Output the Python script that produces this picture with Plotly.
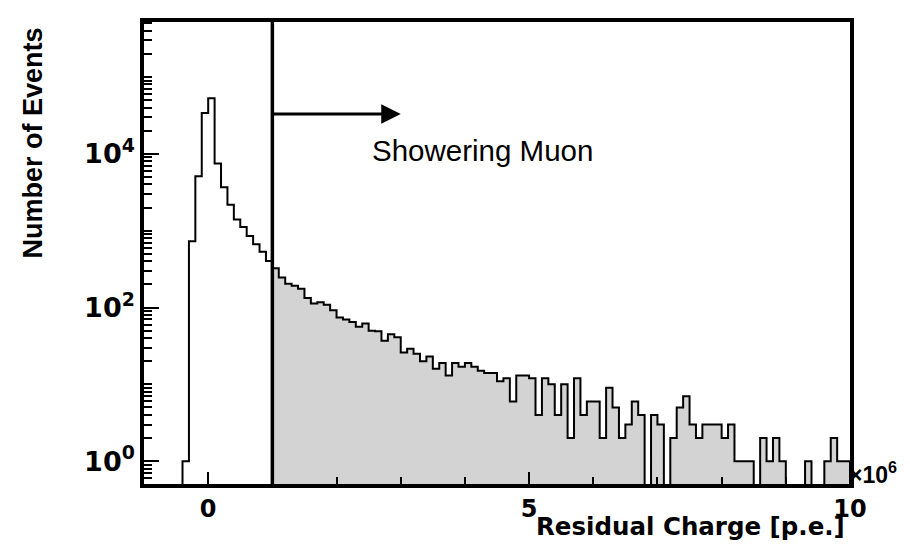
import numpy as np
import plotly.graph_objects as go

# ---------------- data ----------------
bin_start = -1.0          # x10^6 p.e.
bin_width = 0.1
counts = [
    0, 0, 0, 0, 0, 0, 1, 730, 5100, 34000,
    53000, 7500, 3670, 2180, 1395, 1120, 850, 664, 533, 404,
    325, 246, 204, 192, 176, 133, 113, 117, 109, 92,
    74, 70, 65, 56, 62, 50, 49, 37, 45, 41,
    26, 29, 25, 20, 23, 16, 19, 13, 19, 17,
    19, 17, 15, 14, 14, 11, 12, 6, 13, 13,
    12, 4, 12, 10, 4, 10, 2, 12, 4, 6,
    6, 2, 9, 5, 2, 3, 6, 4, 0, 4,
    3, 0, 2, 5, 7, 3, 2, 3, 3, 3,
    2, 3, 1, 1, 1, 0, 2, 1, 2, 1,
    0, 0, 0, 1, 0, 0, 1, 2, 1, 1,
]
cut_value = 1.0
arrow_y = 33000
arrow_end = 3.0
label_text = "Showering Muon"
x_tickvals = [0, 5, 10]
x_ticktext = ["0", "5", "10"]
x_minor = [1, 2, 3, 4, 6, 7, 8, 9]
y_tickvals = [1, 100, 10000]
y_ticktext = ["10<sup>0</sup>", "10<sup>2</sup>", "10<sup>4</sup>"]

# ---------------- derived ----------------
counts = np.array(counts, dtype=float)
edges = np.round(bin_start + bin_width * np.arange(len(counts) + 1), 3)
centers = (edges[:-1] + edges[1:]) / 2
floor = 1e-3
ydraw = np.where(counts > 0, counts, floor)

step_x = list(edges) + [edges[-1]]
step_y = list(ydraw) + [ydraw[-1], floor]

sel = (edges[:-1] >= cut_value - 1e-9) & (counts > 0)

y_minor = []
for dec in range(-1, 6):
    for m in range(1, 10):
        v = m * 10.0 ** dec
        if v in y_tickvals:
            continue
        if 0.5 <= v <= 5.2e5:
            y_minor.append(v)

FONT = "DejaVu Sans, Liberation Sans, Arial, sans-serif"
FONT_L = "Liberation Sans, Arial, Helvetica, sans-serif"

fig = go.Figure()
fig.add_trace(go.Bar(
    x=centers[sel], y=counts[sel], width=bin_width,
    marker=dict(color="#d3d3d3", line=dict(width=0)),
    hoverinfo="skip", showlegend=False,
))
fig.add_trace(go.Scatter(
    x=step_x, y=step_y, mode="lines", line=dict(color="black", width=2, shape="hv"),
    hoverinfo="skip", showlegend=False,
))

fig.add_shape(type="line", xref="x", yref="paper", x0=cut_value, x1=cut_value,
              y0=0, y1=1, line=dict(color="black", width=3.5))

fig.add_annotation(x=arrow_end, y=np.log10(arrow_y), ax=cut_value, ay=np.log10(arrow_y),
                   xref="x", yref="y", axref="x", ayref="y", text="",
                   showarrow=True, arrowhead=2, arrowwidth=3, arrowsize=1.3,
                   arrowcolor="black")

fig.add_annotation(x=2.52, y=4.05, xref="x", yref="y", text=label_text,
                   showarrow=False, xanchor="left", yanchor="middle",
                   font=dict(family=FONT_L, size=29.5, color="black"))

fig.add_annotation(x=(25 - 136) / 706, y=(476 - 132.5) / 466, xref="paper", yref="paper",
                   text="<b>Number of Events</b>", textangle=-90, showarrow=False,
                   xanchor="center", yanchor="middle",
                   font=dict(family=FONT_L, size=27, color="black"))

fig.add_annotation(x=(839 - 136) / 706, y=(476 - 519) / 466, xref="paper", yref="paper",
                   text="<b>Residual Charge [p.e.]</b>", showarrow=False,
                   xanchor="right", yanchor="middle",
                   font=dict(family=FONT, size=24.5, color="black"))

fig.add_annotation(x=1, y=(476 - 465) / 466, xref="paper", yref="paper",
                   text="×10<sup>6</sup>",
                   showarrow=False, xanchor="left", yanchor="middle", xshift=-2,
                   borderpad=0,
                   font=dict(family=FONT_L, size=23, color="black", weight="bold"))

fig.update_layout(
    width=910, height=546,
    margin=dict(l=136, r=68, t=10, b=70),
    plot_bgcolor="white", paper_bgcolor="white",
    bargap=0,
    xaxis=dict(
        range=[-1, 10], showgrid=False, zeroline=False,
        showline=True, linewidth=3.5, linecolor="black", mirror=True,
        tickmode="array", tickvals=x_tickvals, ticktext=x_ticktext,
        ticks="inside", ticklen=12, tickwidth=2, tickcolor="black",
        tickfont=dict(family=FONT, size=24, color="black", weight="bold"),
        minor=dict(tickvals=x_minor, ticks="inside", ticklen=7, tickwidth=2,
                   tickcolor="black", showgrid=False),
    ),
    yaxis=dict(
        type="log", range=[-0.297, 5.716], showgrid=False, zeroline=False,
        showline=True, linewidth=3.5, linecolor="black", mirror=True,
        tickmode="array", tickvals=y_tickvals, ticktext=y_ticktext,
        ticks="inside", ticklen=15, tickwidth=2, tickcolor="black",
        tickfont=dict(family=FONT, size=27, color="black", weight="bold"),
        minor=dict(tickvals=y_minor, ticks="inside", ticklen=8, tickwidth=2,
                   tickcolor="black", showgrid=False),
    ),
)

fig.write_html("out.html")
